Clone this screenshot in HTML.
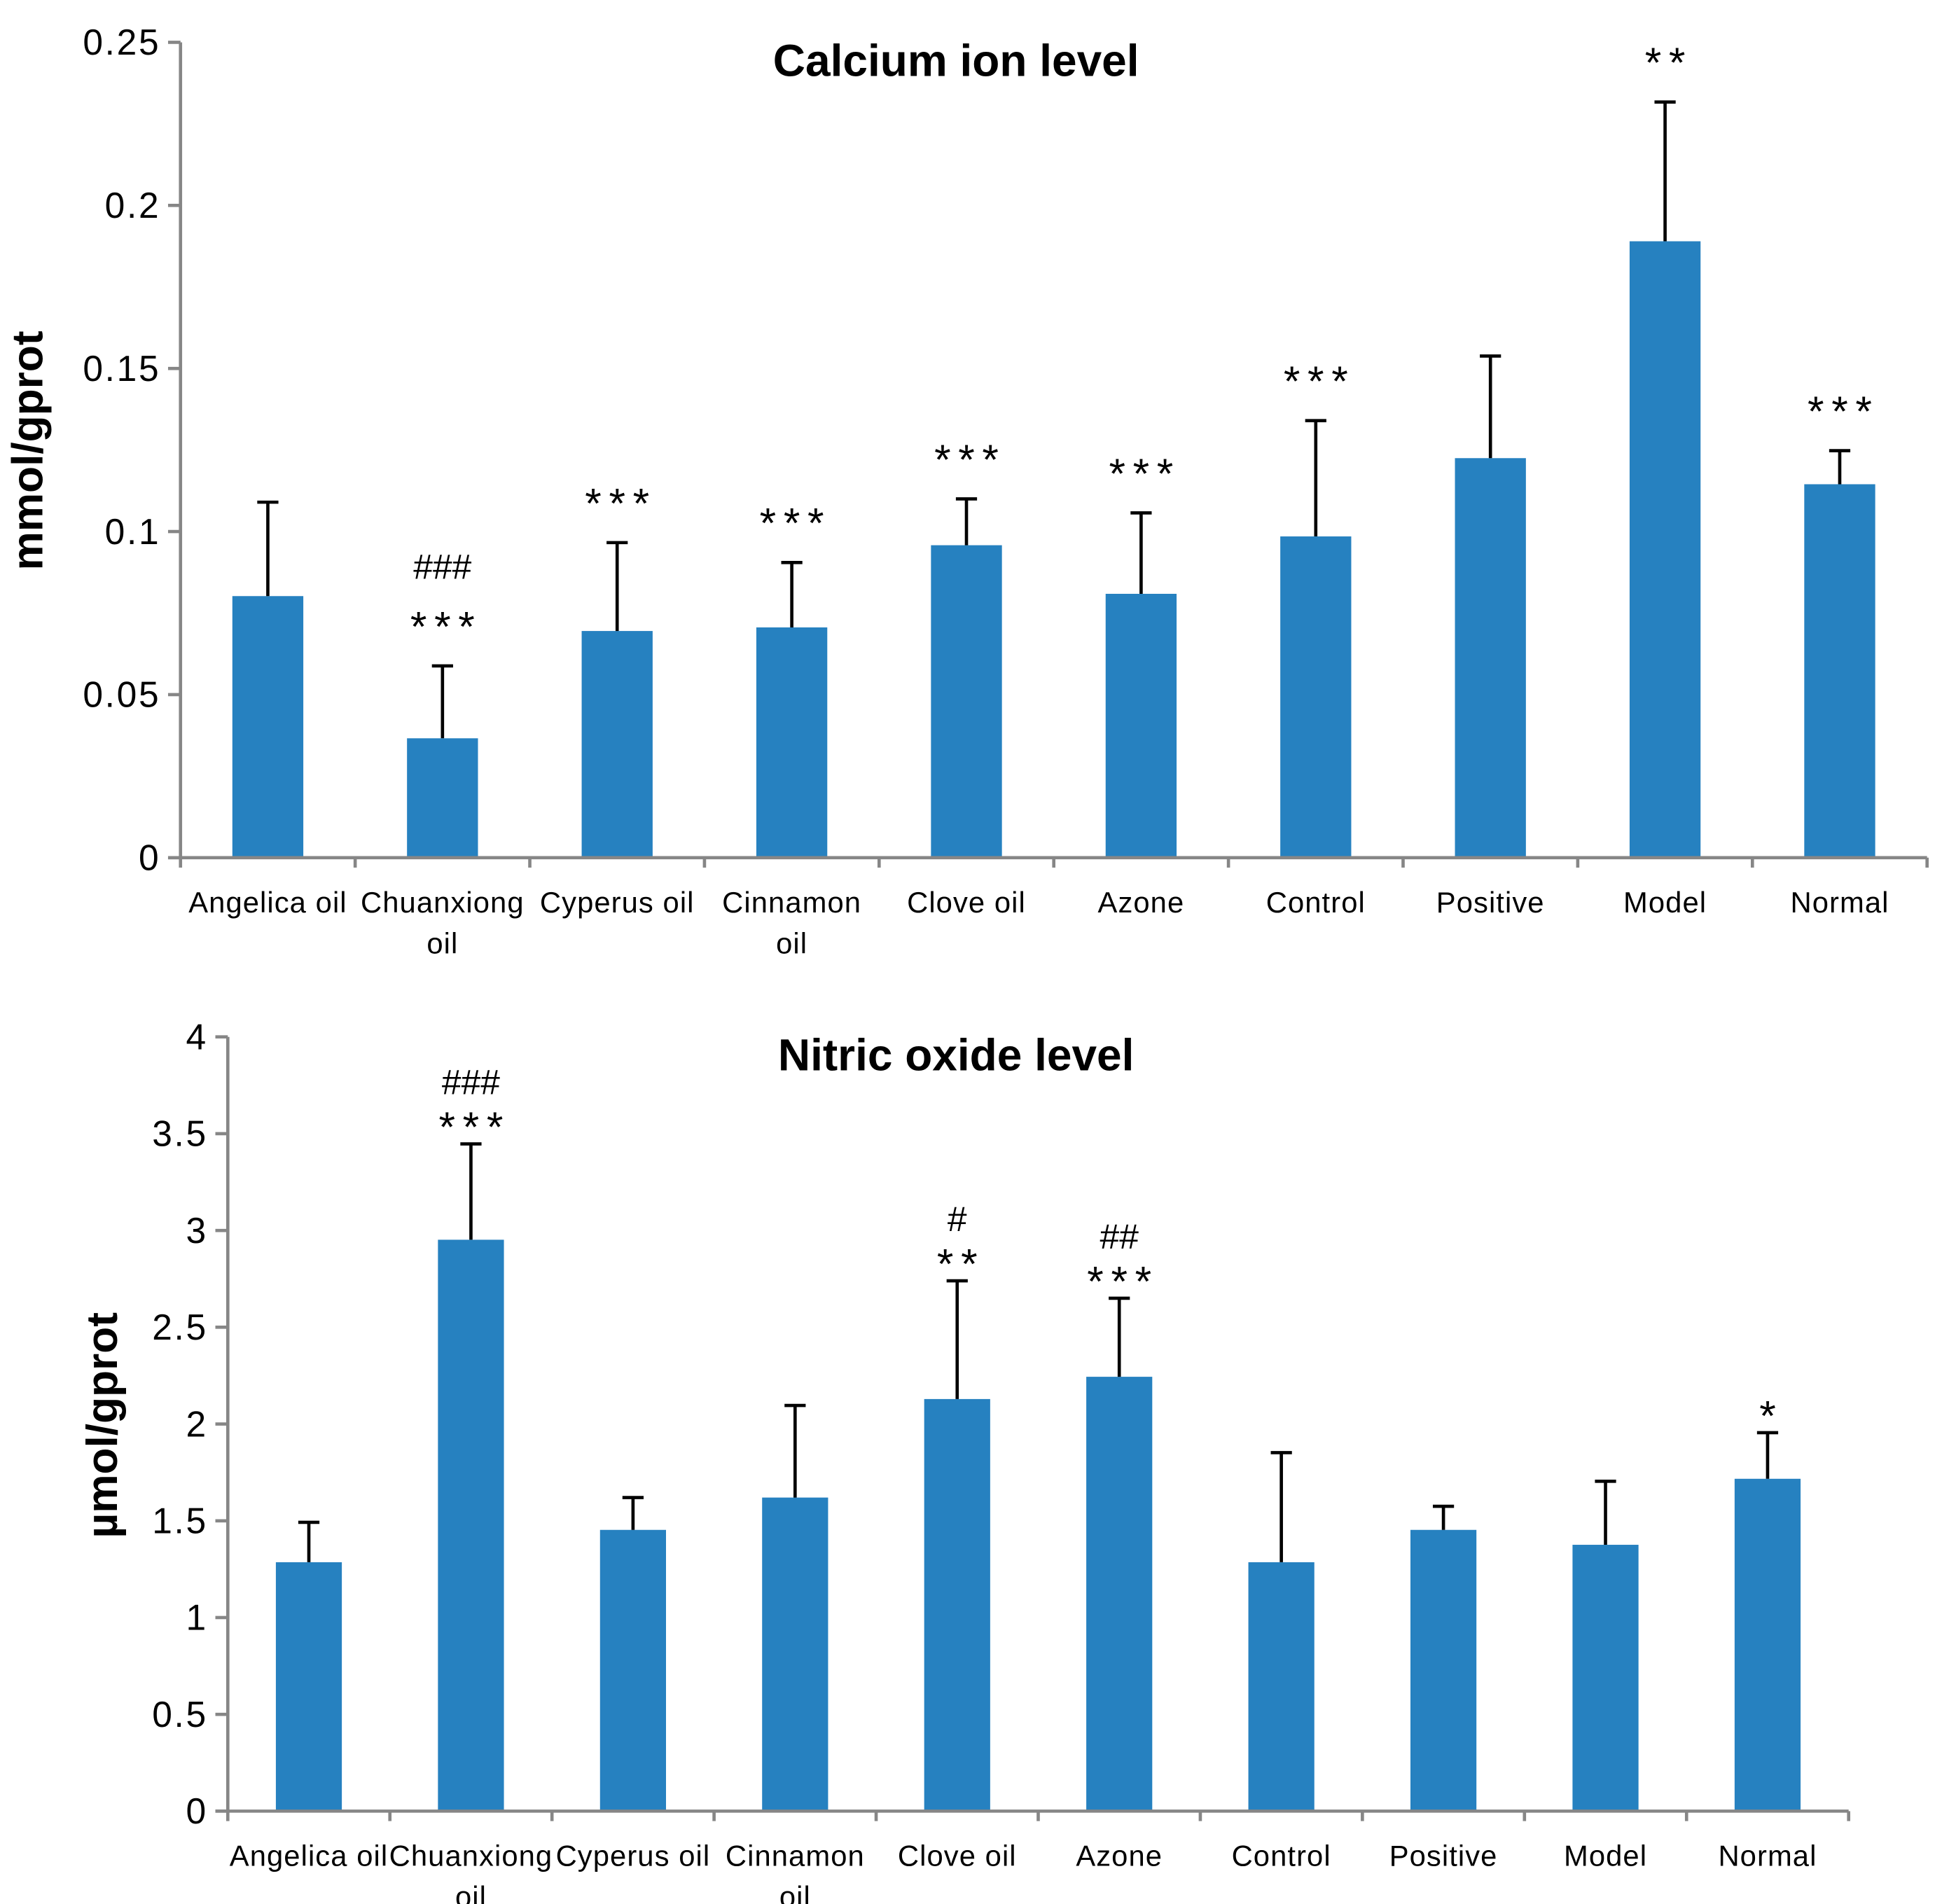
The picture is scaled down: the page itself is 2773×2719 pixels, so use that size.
<!DOCTYPE html>
<html><head><meta charset="utf-8"><style>
html,body{margin:0;padding:0;background:#fff;}
svg{display:block;}
text{font-family:"Liberation Sans",sans-serif;fill:#000;}
</style></head><body>
<svg id="svg" width="2773" height="2719" viewBox="0 0 1560 1529.6" xmlns="http://www.w3.org/2000/svg">
<g id="top"></g>
<g id="bot"></g>
</svg>
<script>
const categories = ["Angelica oil","Chuanxiong oil","Cyperus oil","Cinnamon oil","Clove oil","Azone","Control","Positive","Model","Normal"];
const catLines = [["Angelica oil"],["Chuanxiong","oil"],["Cyperus oil"],["Cinnamon","oil"],["Clove oil"],["Azone"],["Control"],["Positive"],["Model"],["Normal"]];
const caValues = [0.0802,0.0366,0.0695,0.0706,0.0958,0.0809,0.0985,0.1225,0.189,0.1145];
const caErrTop = [0.109,0.0588,0.0966,0.0905,0.110,0.1057,0.134,0.1538,0.2317,0.1248];
const caTicks = [0,0.05,0.1,0.15,0.2,0.25];
const caTickLabels = ["0","0.05","0.1","0.15","0.2","0.25"];
const caAnnot = [[],["###","***"],["***"],["***"],["***"],["***"],["***"],[],["**"],["***"]];
const noValues = [1.286,2.952,1.453,1.62,2.129,2.244,1.286,1.453,1.376,1.717];
const noErrTop = [1.492,3.447,1.62,2.096,2.74,2.65,1.852,1.575,1.704,1.955];
const noTicks = [0,0.5,1,1.5,2,2.5,3,3.5,4];
const noTickLabels = ["0","0.5","1","1.5","2","2.5","3","3.5","4"];
const noAnnot = [[],["###","***"],[],[],["#","**"],["##","***"],[],[],[],["*"]];

const NS="http://www.w3.org/2000/svg";
function mk(parent,tag,attrs,txt){const e=document.createElementNS(NS,tag);for(const k in attrs)e.setAttribute(k,attrs[k]);if(txt!==undefined)e.textContent=txt;parent.appendChild(e);return e;}

function draw(g,cfg){
  const {x0,x1,y0,yTop,max,ticks,tickLabels,values,errTop,annot,barW,title,titleY,ylabel,ylabX,ylabY,starC,hashC}=cfg;
  const y=v=>y0-(v/max)*(y0-yTop);
  const step=(x1-x0)/categories.length;
  const cx=i=>x0+step*(i+0.5);
  values.forEach((v,i)=>{
    const r=mk(g,'rect',{x:cx(i)-barW/2,y:y(v),width:barW,height:y0-y(v),fill:'#2681c0'});
    
    
    const l=mk(g,'line',{x1:cx(i),x2:cx(i),y1:y(v),y2:y(errTop[i]),stroke:'#000','stroke-width':2.6});
    
    
    const c=mk(g,'line',{x1:cx(i)-8.5,x2:cx(i)+8.5,y1:y(errTop[i]),y2:y(errTop[i]),stroke:'#000','stroke-width':2.6});
    
    
    annot[i].forEach(s=>{
      const isStar=s.indexOf('*')>=0;
      const yy=isStar? y(errTop[i])-starC+18 : y(errTop[i])-hashC+10;
      const t=mk(g,'text',{x:cx(i)+(isStar?3:0),y:yy,'text-anchor':'middle','font-size':isStar?34:28,'letter-spacing':isStar?6:0},s);
      
      
    });
  });
  const ya=mk(g,'line',{x1:x0,x2:x0,y1:yTop,y2:y0+1,stroke:'#868686','stroke-width':2.6});
  
  
  const xa=mk(g,'line',{x1:x0-10,x2:x1,y1:y0,y2:y0,stroke:'#868686','stroke-width':2.6});
  
  
  ticks.forEach((t,i)=>{
    const tl=mk(g,'line',{x1:x0-10,x2:x0,y1:y(t),y2:y(t),stroke:'#868686','stroke-width':2.6});
    
    
    const tx=mk(g,'text',{x:x0-16,y:y(t)+10,'text-anchor':'end','font-size':29,'letter-spacing':1.5},tickLabels[i]);
    
    
  });
  for(let i=0;i<=categories.length;i++){
    const xt=x0+step*i;
    const tl=mk(g,'line',{x1:xt,x2:xt,y1:y0,y2:y0+8,stroke:'#868686','stroke-width':2.6});
    
    
  }
  catLines.forEach((ls,i)=>{
    ls.forEach((s,k)=>{
      const t=mk(g,'text',{x:cx(i),y:y0+44+k*33,'text-anchor':'middle','font-size':23.5,'letter-spacing':0.6},s);
      
      
    });
  });
  const tt=mk(g,'text',{x:768,y:titleY,'text-anchor':'middle','font-size':36,'font-weight':'bold'},title);
  
  
  const yl=mk(g,'text',{x:0,y:0,'text-anchor':'middle','font-size':35,'font-weight':'bold',transform:`translate(${ylabX},${ylabY}) rotate(-90)`},ylabel);
  
  
}
draw(document.getElementById('top'),{x0:145,x1:1548,y0:689,yTop:34,max:0.25,ticks:caTicks,tickLabels:caTickLabels,values:caValues,errTop:caErrTop,annot:caAnnot,barW:57,title:"Calcium ion level",titleY:61,ylabel:"mmol/gprot",ylabX:34,ylabY:362,starC:38,hashC:80});
draw(document.getElementById('bot'),{x0:183,x1:1485,y0:1455,yTop:833,max:4,ticks:noTicks,tickLabels:noTickLabels,values:noValues,errTop:noErrTop,annot:noAnnot,barW:53,title:"Nitric oxide level",titleY:860,ylabel:"µmol/gprot",ylabX:94,ylabY:1145,starC:20,hashC:50});
</script>
</body></html>
